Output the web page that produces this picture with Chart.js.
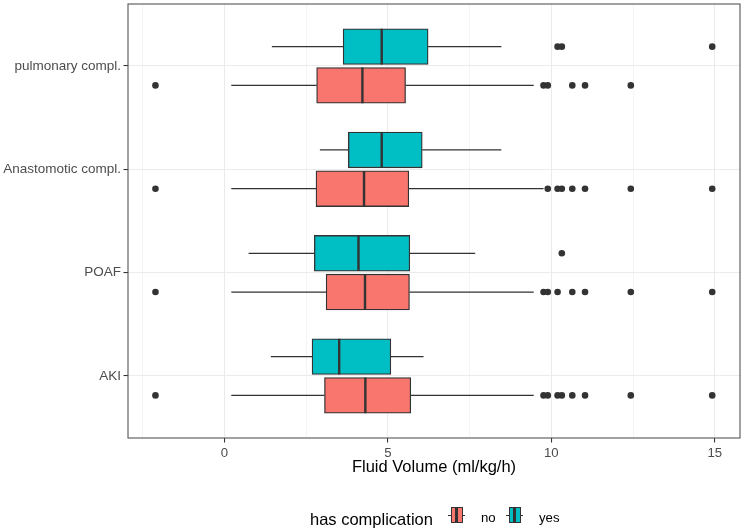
<!DOCTYPE html>
<html>
<head>
<meta charset="utf-8">
<script src="https://cdn.jsdelivr.net/npm/chart.js@4/dist/chart.umd.min.js"></script>
<style>
html,body{margin:0;padding:0;background:#fff;}
#wrap{position:relative;width:744px;height:531px;overflow:hidden;font-family:"Liberation Sans",Arial,sans-serif;}
#chart{position:absolute;left:0;top:0;}
.lg{position:absolute;white-space:nowrap;color:#000;}
.key{position:absolute;width:17px;height:16px;}
.key .wh{position:absolute;left:0;top:7.5px;width:17px;height:1.3px;background:#333;}
.key .bx{position:absolute;left:2.5px;top:0;width:10px;height:14px;border:1.2px solid #333;}
.key .md{position:absolute;left:7.4px;top:0;width:2.2px;height:16.4px;background:#333;}
</style>
</head>
<body>
<div id="wrap">
<canvas id="chart" width="744" height="531"></canvas>
<span class="lg" style="left:310px;top:509.3px;font-size:16.5px;line-height:20px;">has complication</span>
<div class="key" style="left:448px;top:507px;"><div class="wh"></div><div class="bx" style="background:#F8766D"></div><div class="md"></div></div>
<span class="lg" style="left:481px;top:509.7px;font-size:13.2px;line-height:16px;">no</span>
<div class="key" style="left:506px;top:507px;"><div class="wh"></div><div class="bx" style="background:#00BFC4"></div><div class="md"></div></div>
<span class="lg" style="left:539px;top:509.7px;font-size:13.2px;line-height:16px;">yes</span>
</div>
<script>
// ---- data ----
const categories = ['pulmonary compl.', 'Anastomotic compl.', 'POAF', 'AKI'];
const xTicks = [-2.5, 0, 2.5, 5, 7.5, 10, 12.5, 15];
const groups = ['no', 'yes'];

// "yes" group: whisker low, Q1, median, Q3, whisker high
const yesLow    = [1.45, 2.92, 0.74, 1.42];
const yesQ1     = [3.63, 3.79, 2.75, 2.68];
const yesMedian = [4.81, 4.81, 4.10, 3.51];
const yesQ3     = [6.23, 6.05, 5.67, 5.09];
const yesHigh   = [8.47, 8.47, 7.67, 6.09];
const yesOutliers = [[10.19, 10.32, 14.92], [], [10.32], []];

// "no" group
const noLow    = [0.21, 0.21, 0.21, 0.21];
const noQ1     = [2.82, 2.80, 3.11, 3.06];
const noMedian = [4.22, 4.27, 4.30, 4.31];
const noQ3     = [5.54, 5.64, 5.66, 5.70];
const noHigh   = [9.46, 9.76, 9.46, 9.46];
const noOutliers = [
  [-2.11, 9.76, 9.89, 10.64, 11.03, 12.43],
  [-2.11, 9.89, 10.19, 10.32, 10.64, 11.03, 12.43, 14.92],
  [-2.11, 9.76, 9.89, 10.19, 10.64, 11.03, 12.43, 14.92],
  [-2.11, 9.76, 9.89, 10.19, 10.32, 10.64, 11.03, 12.43, 14.92]
];

// ---- layout helpers ----
const catPos = categories.map((c, i) => categories.length - i); // top category highest
const DODGE = 0.1875;   // half dodge width
const HALF = 0.172;     // half box height in category units
const BOX_PX = 35.7;

function boxData(q1, q3, off) {
  return categories.map((c, i) => ({ y: catPos[i] + off, x: [q1[i], q3[i]] }));
}
function whiskerData(lo, q1, q3, hi, off) {
  const d = [];
  categories.forEach((c, i) => {
    const p = catPos[i] + off;
    d.push({ x: lo[i], y: p }, { x: q1[i], y: p }, { x: null, y: null });
    d.push({ x: q3[i], y: p }, { x: hi[i], y: p }, { x: null, y: null });
  });
  return d;
}
function medianData(med, off) {
  const d = [];
  categories.forEach((c, i) => {
    const p = catPos[i] + off;
    d.push({ x: med[i], y: p - HALF }, { x: med[i], y: p + HALF }, { x: null, y: null });
  });
  return d;
}
function outlierData(outs, off) {
  const d = [];
  outs.forEach((arr, i) => arr.forEach(v => d.push({ x: v, y: catPos[i] + off })));
  return d;
}

const DARK = '#333333';
const lineDs = (data, w, order) => ({
  type: 'line', data, borderColor: DARK, borderWidth: w, pointRadius: 0,
  spanGaps: false, fill: false, order, tension: 0
});

const datasets = [
  lineDs(whiskerData(yesLow, yesQ1, yesQ3, yesHigh, DODGE), 1.3, 3),
  lineDs(whiskerData(noLow, noQ1, noQ3, noHigh, -DODGE), 1.3, 3),
  { type: 'bar', indexAxis: 'y', grouped: false, data: boxData(yesQ1, yesQ3, DODGE),
    backgroundColor: '#00BFC4', borderColor: DARK, borderWidth: 1.3, borderSkipped: false,
    barThickness: BOX_PX, maxBarThickness: BOX_PX, order: 2 },
  { type: 'bar', indexAxis: 'y', grouped: false, data: boxData(noQ1, noQ3, -DODGE),
    backgroundColor: '#F8766D', borderColor: DARK, borderWidth: 1.3, borderSkipped: false,
    barThickness: BOX_PX, maxBarThickness: BOX_PX, order: 2 },
  lineDs(medianData(yesMedian, DODGE), 2.4, 1),
  lineDs(medianData(noMedian, -DODGE), 2.4, 1),
  { type: 'line', showLine: false, data: outlierData(yesOutliers, DODGE), pointRadius: 3.3,
    pointBackgroundColor: DARK, pointBorderWidth: 0, order: 0 },
  { type: 'line', showLine: false, data: outlierData(noOutliers, -DODGE), pointRadius: 3.3,
    pointBackgroundColor: DARK, pointBorderWidth: 0, order: 0 }
];

const panelBorder = {
  id: 'panelBorder',
  afterDatasetsDraw(chart) {
    const { ctx, chartArea: a } = chart;
    ctx.save();
    ctx.strokeStyle = '#555555';
    ctx.lineWidth = 1.1;
    ctx.strokeRect(a.left, a.top, a.right - a.left, a.bottom - a.top);
    ctx.restore();
  }
};

const FONT = '"Liberation Sans", Arial, sans-serif';
const isMajor = v => Math.abs(v % 5) < 1e-9;

new Chart(document.getElementById('chart'), {
  type: 'bar',
  data: { datasets },
  plugins: [panelBorder],
  options: {
    responsive: false,
    animation: false,
    events: [],
    layout: { padding: { left: 0, top: 2, right: 2.3, bottom: 50 } },
    plugins: { legend: { display: false }, tooltip: { enabled: false } },
    scales: {
      x: {
        type: 'linear', position: 'bottom', min: -2.95, max: 15.77, offset: false,
        afterBuildTicks: s => { s.ticks = xTicks.map(v => ({ value: v })); },
        afterFit: s => { s.height = 43; s.paddingLeft = 0; s.paddingRight = 0; },
        border: { display: false },
        grid: {
          offset: false,
          color: '#EBEBEB',
          lineWidth: c => (c.tick && isMajor(c.tick.value)) ? 1.07 : 0.55,
          tickColor: c => (c.tick && isMajor(c.tick.value)) ? DARK : 'rgba(0,0,0,0)',
          tickLength: 4.5, tickWidth: 1.07, drawTicks: true
        },
        ticks: {
          autoSkip: false, maxRotation: 0, padding: 2.5, color: '#4D4D4D',
          font: { family: FONT, size: 13.2 },
          callback: v => isMajor(v) ? String(v) : ''
        },
        title: {
          display: true, text: 'Fluid Volume (ml/kg/h)', color: '#000',
          font: { family: FONT, size: 16.5 }, padding: { top: 0, bottom: 3.8 }
        }
      },
      y: {
        type: 'linear', position: 'left', min: 0.4, max: 4.6, offset: false,
        afterBuildTicks: s => { s.ticks = catPos.map(v => ({ value: v })); },
        afterFit: s => { s.width = 128; s.paddingTop = 0; s.paddingBottom = 0; },
        border: { display: false },
        grid: { offset: false, color: '#EBEBEB', lineWidth: 1.07, tickColor: DARK, tickLength: 4.5, tickWidth: 1.07 },
        ticks: {
          autoSkip: false, padding: 2.5, color: '#4D4D4D',
          font: { family: FONT, size: 13.5 },
          callback: v => categories[categories.length - v]
        }
      }
    }
  }
});
</script>
</body>
</html>
